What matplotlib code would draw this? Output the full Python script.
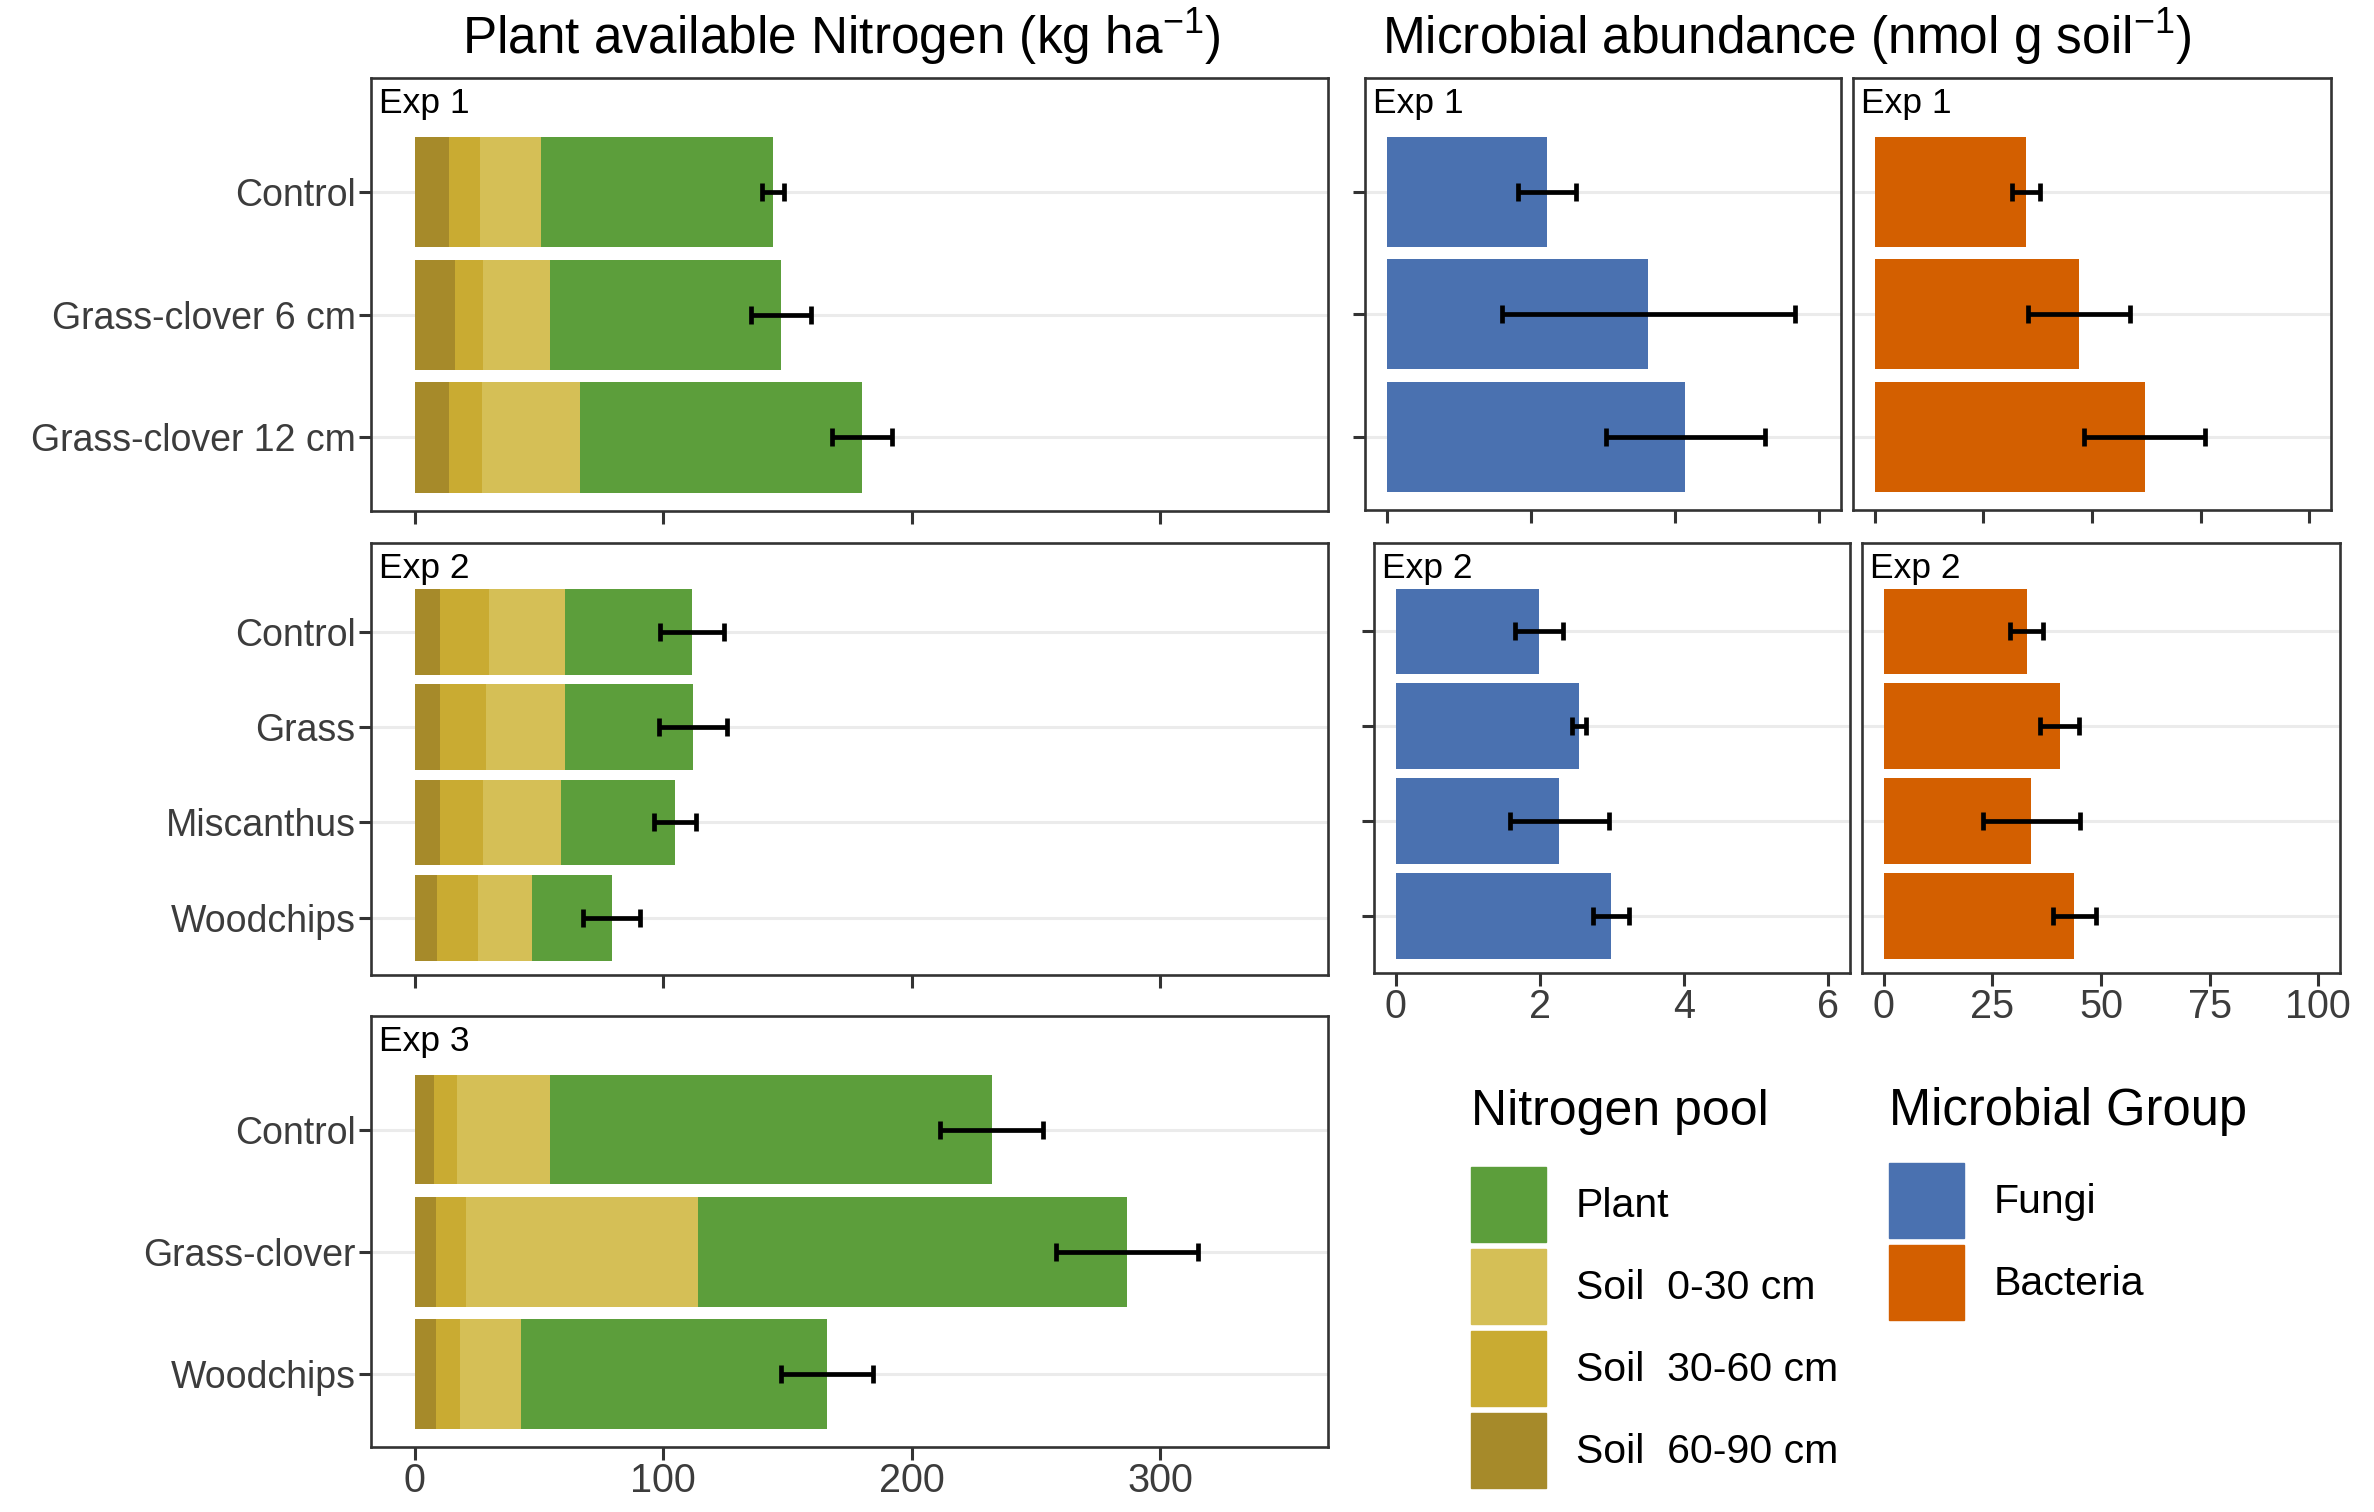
import numpy as np
import matplotlib.pyplot as plt
from matplotlib.patches import Patch

plt.rcParams['font.family'] = ['Liberation Sans', 'DejaVu Sans']
plt.rcParams['mathtext.fontset'] = 'custom'
plt.rcParams['mathtext.rm'] = 'Liberation Sans'

W, H = 2374, 1512

# ---- plant available N (kg/ha), one list per pool, bars stacked from 60-90 cm outward
exp1_labels = ['Control', 'Grass-clover 6 cm', 'Grass-clover 12 cm']
exp1_soil_60_90 = [13.9, 16.1, 13.9]
exp1_soil_30_60 = [12.3, 11.6, 13.3]
exp1_soil_0_30 = [24.7, 26.7, 39.3]
exp1_plant = [93.4, 93.0, 113.6]
exp1_n_err = [4.5, 12.2, 12.0]

exp2_labels = ['Control', 'Grass', 'Miscanthus', 'Woodchips']
exp2_soil_60_90 = [10.1, 10.1, 10.1, 9.1]
exp2_soil_30_60 = [19.9, 18.6, 17.6, 16.3]
exp2_soil_0_30 = [30.7, 32.0, 31.2, 22.0]
exp2_plant = [50.9, 51.4, 45.9, 31.9]
exp2_n_err = [13.0, 13.6, 8.5, 11.6]

exp3_labels = ['Control', 'Grass-clover', 'Woodchips']
exp3_soil_60_90 = [7.8, 8.8, 8.6]
exp3_soil_30_60 = [9.1, 11.9, 9.8]
exp3_soil_0_30 = [37.8, 93.4, 24.4]
exp3_plant = [177.5, 172.5, 123.2]
exp3_n_err = [20.6, 28.6, 18.5]

# ---- microbial abundance (nmol/g soil)
exp1_fungi = [2.22, 3.63, 4.14]
exp1_fungi_err = [0.40, 2.03, 1.10]
exp1_bact = [34.8, 47.0, 62.1]
exp1_bact_err = [3.2, 11.8, 13.9]

exp2_fungi = [1.99, 2.54, 2.27, 2.98]
exp2_fungi_err = [0.33, 0.10, 0.69, 0.25]
exp2_bact = [32.9, 40.5, 34.0, 43.9]
exp2_bact_err = [3.8, 4.5, 11.2, 5.0]

pool_names = ['Plant', 'Soil  0-30 cm', 'Soil  30-60 cm', 'Soil  60-90 cm']
pool_colors = ['#5c9e3b', '#d5bf56', '#c9ab32', '#a68a2a']
microbe_names = ['Fungi', 'Bacteria']
microbe_colors = ['#4a71b0', '#d35f00']

fig = plt.figure(figsize=(W / 100, H / 100), dpi=100)

err_kw = dict(fmt='none', ecolor='black', elinewidth=3.4, capsize=6.5, capthick=3.4)


def add_panel(x0, y0, x1, y1):
    return fig.add_axes([x0 / W, 1 - y1 / H, (x1 - x0) / W, (y1 - y0) / H])


def style(ax, box, labels, xlim, xticks, xlabels, ylabels, yticks, tag):
    n = len(labels)
    ax.set_ylim(n - 1 + 0.6, -0.93)
    ax.set_xlim(*xlim)
    ax.set_xticks(xticks)
    ax.set_yticks(range(n))
    if ylabels:
        ax.set_yticklabels(labels)
    else:
        ax.set_yticklabels([])
    if not xlabels:
        ax.set_xticklabels([])
    ax.yaxis.grid(True, color='#ebebeb', lw=2.2)
    ax.set_axisbelow(True)
    for s in ax.spines.values():
        s.set_color('#333333')
        s.set_linewidth(1.9)
    ax.tick_params(axis='both', color='#333333', width=2.2, length=9, pad=2)
    ax.tick_params(axis='y', labelsize=27, labelcolor='#3c3c3c', left=yticks)
    ax.tick_params(axis='x', labelsize=28.5, labelcolor='#3c3c3c')
    fig.text((box[0] + 8) / W, 1 - (box[1] + 35) / H, tag, fontsize=25.5,
             ha='left', va='baseline')


def n_panel(box, labels, s6090, s3060, s030, plant, err, xlabels, tag):
    ax = add_panel(*box)
    y = np.arange(len(labels))
    left = np.zeros(len(labels))
    for vals, col in zip([s6090, s3060, s030, plant], pool_colors[::-1]):
        ax.barh(y, vals, left=left, height=0.9, color=col)
        left = left + np.array(vals)
    ax.errorbar(left, y, xerr=err, **err_kw)
    style(ax, box, labels, (-17.5, 367.5), [0, 100, 200, 300], xlabels, True, True, tag)
    return ax


def m_panel(box, labels, vals, err, col, xlim, xticks, xlabels, yticks, tag):
    ax = add_panel(*box)
    y = np.arange(len(labels))
    ax.barh(y, vals, height=0.9, color=col)
    ax.errorbar(vals, y, xerr=err, **err_kw)
    style(ax, box, labels, xlim, xticks, xlabels, False, yticks, tag)
    return ax


n_panel((371, 78, 1328, 511), exp1_labels, exp1_soil_60_90, exp1_soil_30_60,
        exp1_soil_0_30, exp1_plant, exp1_n_err, False, 'Exp 1')
n_panel((371, 543, 1328, 975), exp2_labels, exp2_soil_60_90, exp2_soil_30_60,
        exp2_soil_0_30, exp2_plant, exp2_n_err, False, 'Exp 2')
n_panel((371, 1016, 1328, 1447), exp3_labels, exp3_soil_60_90, exp3_soil_30_60,
        exp3_soil_0_30, exp3_plant, exp3_n_err, True, 'Exp 3')

m_panel((1365, 78, 1841, 510), exp1_labels, exp1_fungi, exp1_fungi_err, microbe_colors[0],
        (-0.3, 6.3), [0, 2, 4, 6], False, True, 'Exp 1')
m_panel((1853, 78, 2331, 510), exp1_labels, exp1_bact, exp1_bact_err, microbe_colors[1],
        (-5, 105), [0, 25, 50, 75, 100], False, False, 'Exp 1')
m_panel((1374, 543, 1850, 973), exp2_labels, exp2_fungi, exp2_fungi_err, microbe_colors[0],
        (-0.3, 6.3), [0, 2, 4, 6], True, True, 'Exp 2')
m_panel((1862, 543, 2340, 973), exp2_labels, exp2_bact, exp2_bact_err, microbe_colors[1],
        (-5, 105), [0, 25, 50, 75, 100], True, False, 'Exp 2')

# titles
fig.text(841 / W, 1 - 54 / H, 'Plant available Nitrogen (kg ha$^{-1}$)', fontsize=37,
         ha='center', va='baseline')
fig.text(1787 / W, 1 - 54 / H, 'Microbial abundance (nmol g soil$^{-1}$)', fontsize=37,
         ha='center', va='baseline')

# legends
leg_kw = dict(loc='upper left', frameon=False, borderpad=0, borderaxespad=0,
              fontsize=29.5, handlelength=1.83, handleheight=2.44,
              handletextpad=0.73, labelspacing=0.17)
fig.text(1471 / W, 1 - 1112 / H, 'Nitrogen pool', fontsize=36, ha='left', va='center')
fig.legend([Patch(color=c) for c in pool_colors], pool_names,
           bbox_to_anchor=(1471 / W, 1 - 1167 / H), **leg_kw)
fig.text(1889 / W, 1 - 1112 / H, 'Microbial Group', fontsize=36.5, ha='left', va='center')
fig.legend([Patch(color=c) for c in microbe_colors], microbe_names,
           bbox_to_anchor=(1889 / W, 1 - 1163 / H), **leg_kw)

fig.savefig('out.png', dpi=100)
